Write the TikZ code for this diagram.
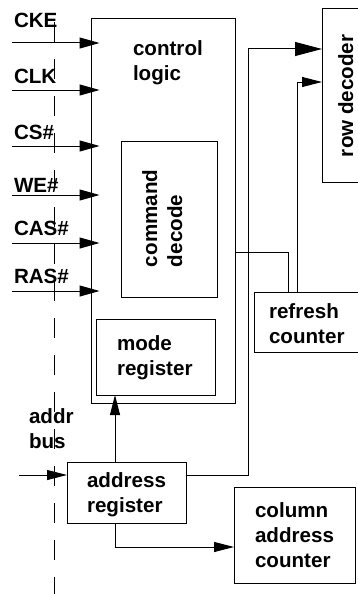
\documentclass[tikz,border=0pt]{standalone}
\usepackage{fontspec}
\setmainfont{Liberation Sans}
\newfontfamily\lblfont{Liberation Sans Bold}
\usetikzlibrary{arrows.meta}

\begin{document}
\begin{tikzpicture}[x=1pt,y=-1pt,
  box/.style={draw,line width=1pt,inner sep=0pt,outer sep=0pt},
  % multi-line labels are placed by the baseline of their last line
  lbl/.style={font=\lblfont\fontsize{20.6}{25}\selectfont,inner sep=0pt,outer sep=0pt,anchor=base west,align=left},
  wire/.style={line width=1pt},
  inarr/.style={wire,-{Triangle[length=20pt,width=11pt]},shorten >=-8.5pt},
  smallarr/.style={wire,-{Triangle[length=20pt,width=10pt]}},
  bigarr/.style={wire,-{Triangle[length=27pt,width=14pt]}},
  busline/.style={wire,dash pattern=on 20pt off 17pt}
]
\useasboundingbox (0,0) rectangle (358,594);
\clip (0,0) rectangle (358,594);

% blocks
\node[box,minimum width=144pt,minimum height=384pt] (ctrl) at (163,211) {};
\node[box,minimum width=96pt,minimum height=156pt] (cmd) at (169,219) {};
\node[box,minimum width=119pt,minimum height=76pt] (mode) at (155.5,357) {};
\node[box,minimum width=50pt,minimum height=173pt] (rowdec) at (347,95.5) {};
\node[box,minimum width=118pt,minimum height=60pt] (refresh) at (313,322) {};
\node[box,minimum width=119pt,minimum height=61pt] (addr) at (126.5,492.5) {};
\node[box,minimum width=121pt,minimum height=96pt] (col) at (294.5,535) {};

% block labels
\node[lbl] (tctrl) at (133,81) {control\\logic};
\node[lbl,rotate=90] (tcmd) at (182,267) {command\\decode};
\node[lbl] (tmode) at (117,375) {mode\\register};
\node[lbl,rotate=90] (trow) at (353,157) {row decoder};
\node[lbl] (tref) at (269,343) {refresh\\counter};
\node[lbl] (taddr) at (87,512) {address\\register};
\node[lbl] (tcol) at (255,567) {column\\address\\counter};

% control inputs
\foreach \n/\y/\t/\b in {cke/43/CKE/28, clk/90/CLK/83, cs/146/CS\#/139,
                         we/195/WE\#/192, cas/243/CAS\#/235, ras/291/RAS\#/283} {
  \coordinate (\n) at (12,\y);
  \node[lbl] (t\n) at (14,\b) {\t};
  \draw[inarr] (\n) -- (\n -| ctrl.west);
}

% address bus
\node[lbl] (tbus) at (29,448) {addr\\bus};
\coordinate (ain) at (19,475);
\draw[smallarr] (ain) -- (ain -| addr.west);
\coordinate (bt) at (54.5,22);
\coordinate (bb) at (54.5,600);
\draw[busline] (bt) -- (bb);

% address register outputs
\coordinate (tap) at (115,0);
\draw[smallarr] (addr.north -| tap) -- (mode.south -| tap);
\draw[smallarr] (addr.south -| tap) |- ([yshift=-12pt]col.west);
\coordinate (j1) at (248,49);
\draw[bigarr] (ain -| addr.east) -| (j1) -- (j1 -| rowdec.west);

% refresh path
\coordinate (j2) at (288,252);
\draw[wire] (j2 -| ctrl.east) -| (refresh.north -| j2);
\coordinate (j3) at (297,82);
\draw[smallarr] (refresh.north -| j3) |- (j3 -| rowdec.west);
\end{tikzpicture}
\end{document}
